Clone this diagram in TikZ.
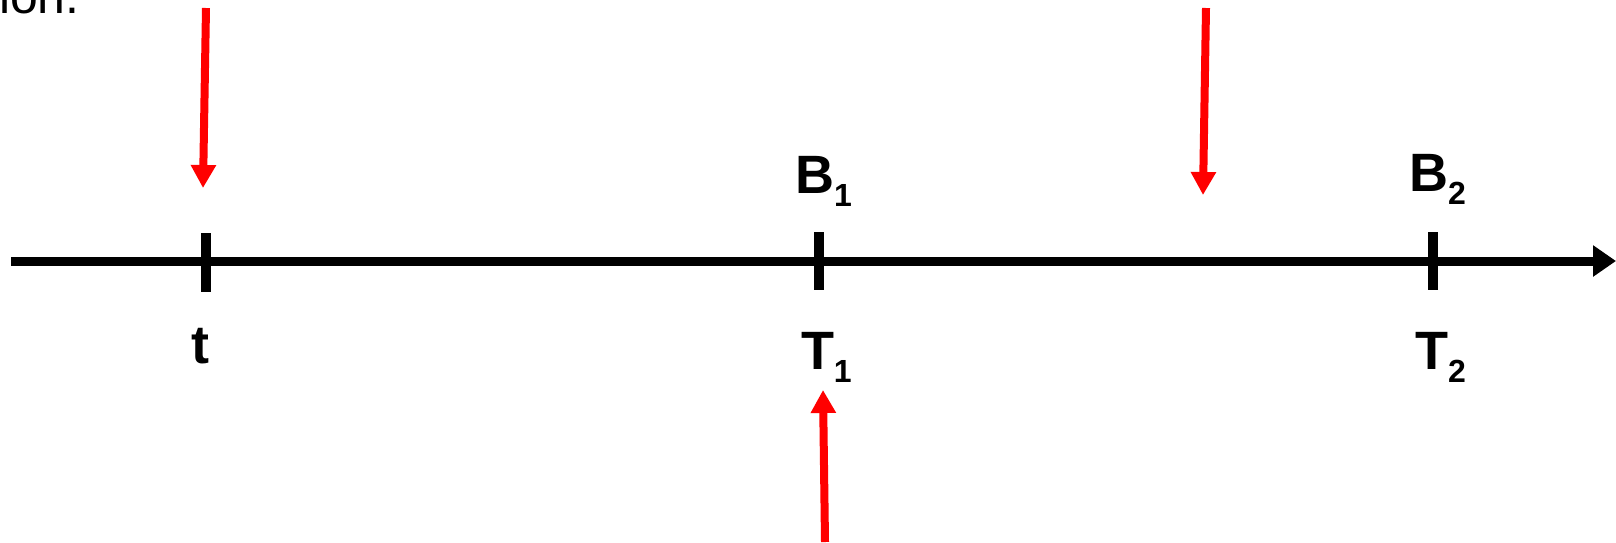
\documentclass[tikz,border=0pt]{standalone}
\usepackage{fontspec}
\setmainfont{Liberation Sans}
\usetikzlibrary{arrows.meta}
\definecolor{arrowred}{RGB}{255,0,0}
\tikzset{
  axisline/.style={line width=9pt, draw=black, -{Triangle[length=23pt,width=30pt]}},
  tickline/.style={line width=10pt, draw=black},
  redarrow/.style={line width=8pt, draw=arrowred, -{Triangle[length=23pt,width=24pt]}},
  biglabel/.style={inner sep=0pt, outer sep=0pt, anchor=base west, font=\fontsize{54}{60}\selectfont\bfseries},
  toptext/.style={inner sep=0pt, outer sep=0pt, anchor=base west, font=\fontsize{50}{60}\selectfont},
}
\newcommand{\mysubnum}[1]{\raisebox{-13pt}{\fontsize{32}{36}\selectfont #1}}
\begin{document}
\begin{tikzpicture}[x=1pt,y=-1pt]
  \useasboundingbox (0,0) rectangle (1616,542);
  % cut-off text at the top
  \node[toptext] (ion) at (-1,13) {ion.};
  % axis
  \coordinate (axstart) at (11,261);
  \coordinate (axend) at (1616,261);
  \draw[axisline] (axstart) -- (axend);
  % ticks
  \coordinate (t0a) at (206,233); \coordinate (t0b) at (206,292);
  \coordinate (t1a) at (819,232); \coordinate (t1b) at (819,290);
  \coordinate (t2a) at (1433,232); \coordinate (t2b) at (1433,290);
  \draw[tickline] (t0a) -- (t0b);
  \draw[tickline] (t1a) -- (t1b);
  \draw[tickline] (t2a) -- (t2b);
  % labels
  \node[biglabel] (B1) at (795,193) {B\mysubnum{1}};
  \node[biglabel] (B2) at (1409,191) {B\mysubnum{2}};
  \node[biglabel] (tl) at (191,363) {t};
  \node[biglabel] (T1) at (801,369) {T\mysubnum{1}};
  \node[biglabel] (T2) at (1415,369) {T\mysubnum{2}};
  % red arrows
  \coordinate (r1s) at (206,8);   \coordinate (r1e) at (203,188);
  \coordinate (r2s) at (1206,8);  \coordinate (r2e) at (1203,195);
  \coordinate (r3s) at (825,542); \coordinate (r3e) at (823,390);
  \draw[redarrow] (r1s) -- (r1e);
  \draw[redarrow] (r2s) -- (r2e);
  \draw[redarrow] (r3s) -- (r3e);
\end{tikzpicture}
\end{document}
